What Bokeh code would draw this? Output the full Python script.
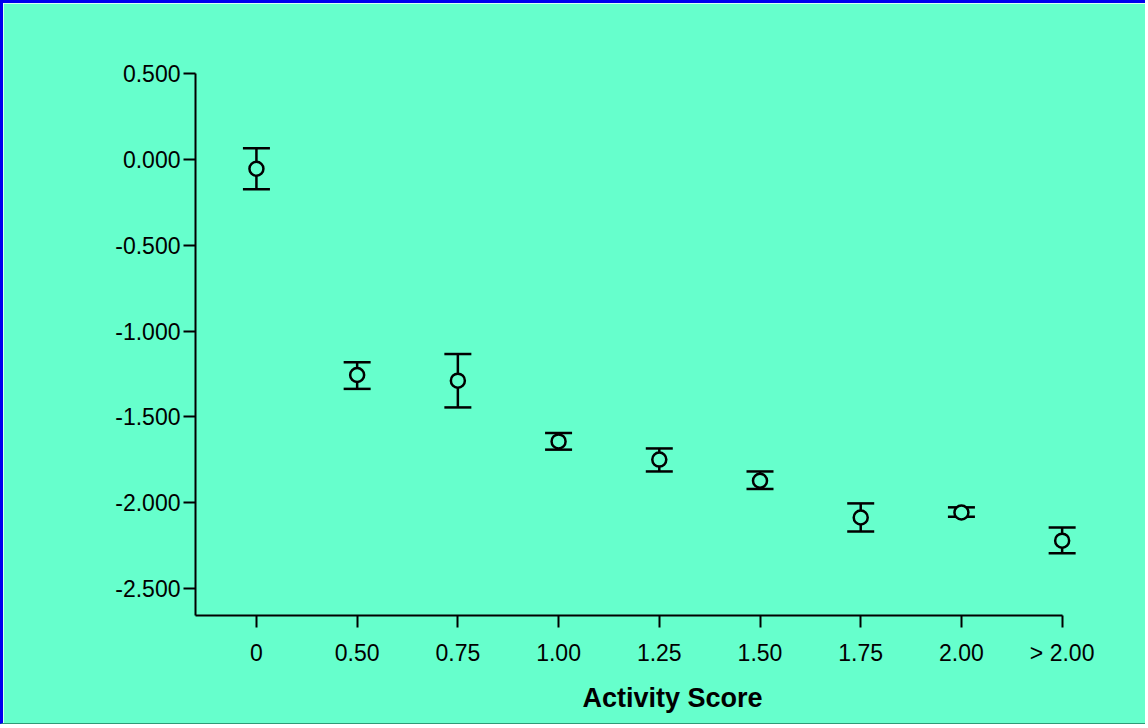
from bokeh.plotting import figure
from bokeh.models import ColumnDataSource, FixedTicker, Whisker, TeeHead, Title
from bokeh.embed import file_html
from bokeh.resources import INLINE

# Mean values with lower / upper error limits for each activity-score group
categories = ["0", "0.50", "0.75", "1.00", "1.25", "1.50", "1.75", "2.00", "> 2.00"]
means = [-0.055, -1.256, -1.289, -1.643, -1.749, -1.872, -2.086, -2.057, -2.221]
upper = [0.065, -1.182, -1.134, -1.594, -1.684, -1.818, -2.004, -2.027, -2.144]
lower = [-0.174, -1.337, -1.445, -1.691, -1.818, -1.920, -2.167, -2.082, -2.295]

y_ticks = [0.5, 0.0, -0.5, -1.0, -1.5, -2.0, -2.5]
y_tick_labels = ["0.500", "0.000", "-0.500", "-1.000", "-1.500", "-2.000", "-2.500"]
x_title = "Activity Score"

BG = "#66FFCC"
FONT = "Liberation Sans"

xs = list(range(len(categories)))
src = ColumnDataSource(dict(x=xs, mean=means, upper=upper, lower=lower))

# the plotting area runs a little past the last category so its error bar is not cut
p = figure(width=1145, height=724, output_backend="svg", toolbar_location=None,
           x_range=(-0.605, 8.5), y_range=(-2.657, 0.5),
           min_border_left=192, min_border_right=36,
           min_border_top=70, min_border_bottom=112)
p.styles = {"border-top": "3px solid #0000EE", "border-left": "3px solid #0000EE",
            "border-right": "none", "border-bottom": "1px solid #2E9C78"}

p.background_fill_color = BG
p.border_fill_color = BG
p.outline_line_color = BG
p.outline_line_width = 2
p.grid.visible = False

# y axis
p.yaxis.ticker = FixedTicker(ticks=y_ticks)
p.yaxis.major_label_overrides = {t: s for t, s in zip(y_ticks, y_tick_labels)}
p.yaxis.minor_tick_line_color = None
p.yaxis.major_tick_out = 12
p.yaxis.major_tick_in = 0
p.yaxis.major_label_standoff = 3

# x axis: the line stops at the last category
p.xaxis.ticker = FixedTicker(ticks=xs)
p.xaxis.major_label_overrides = {i: c for i, c in enumerate(categories)}
p.xaxis.bounds = (-0.605, 8)
p.xaxis.minor_tick_line_color = None
p.xaxis.major_tick_out = 12
p.xaxis.major_tick_in = 0
p.xaxis.major_label_standoff = 12

for ax in (p.xaxis, p.yaxis):
    ax.axis_line_width = 2
    ax.axis_line_color = "black"
    ax.major_tick_line_width = 2
    ax.major_tick_line_color = "black"
    ax.major_label_text_font = FONT
    ax.major_label_text_font_size = "23px"
    ax.major_label_text_color = "black"

# error bars
w = Whisker(source=src, base="x", upper="upper", lower="lower",
            line_color="black", line_width=2.5,
            upper_head=TeeHead(size=27, line_color="black", line_width=2.5),
            lower_head=TeeHead(size=27, line_color="black", line_width=2.5))
p.add_layout(w)

# mean markers
p.scatter("x", "mean", source=src, size=14, marker="circle",
          fill_color=BG, line_color="black", line_width=2.5)

# x axis title
p.add_layout(Title(text=x_title, align="left", offset=387, standoff=24,
                   text_font=FONT, text_font_size="27px", text_font_style="bold",
                   text_color="black"), "below")

open("out.html", "w").write(file_html(p, INLINE))
